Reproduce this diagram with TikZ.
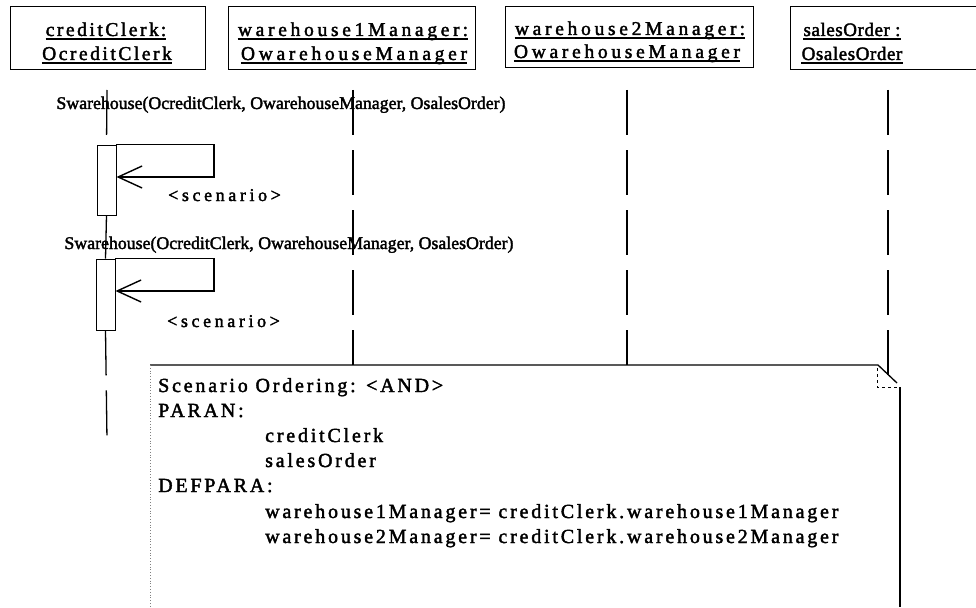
\documentclass[tikz,border=0pt]{standalone}
\usepackage{fontspec}
\setmainfont{Liberation Serif}[FakeBold=2]
\newfontfamily\hdrA{Liberation Serif}[LetterSpace=13, FakeBold=2]
\newfontfamily\hdrB{Liberation Serif}[LetterSpace=19, FakeBold=2]
\newfontfamily\hdrC{Liberation Serif}[LetterSpace=3, FakeBold=2]
\newfontfamily\notefont{Liberation Serif}[LetterSpace=14, FakeBold=2]
\newfontfamily\scnfont{Liberation Serif}[LetterSpace=20, FakeBold=2]
\usetikzlibrary{arrows.meta}
\begin{document}
\begin{tikzpicture}[x=1pt,y=-1pt,
  objbox/.style={draw, line width=1pt},
  hdr/.style={font=\hdrA\fontsize{19.5}{22}\selectfont, inner sep=0pt, anchor=base},
  hdrwide/.style={font=\hdrB\fontsize{19.5}{22}\selectfont, inner sep=0pt, anchor=base},
  hdrplain/.style={font=\hdrC\fontsize{19}{22}\selectfont, inner sep=0pt, anchor=base},
  uline/.style={line width=1.6pt},
  msg/.style={font=\fontsize{17.8}{20}\selectfont, inner sep=0pt, anchor=base},
  scn/.style={font=\scnfont\fontsize{18}{20}\selectfont, inner sep=0pt, anchor=base west},
  notetxt/.style={font=\notefont\fontsize{20}{25}\selectfont, inner sep=0pt, anchor=base west},
  life/.style={line width=1.3pt, dash pattern=on 45pt off 15pt},
  act/.style={draw, line width=0.9pt, minimum width=19pt, inner sep=0pt, fill=white},
  selfmsg/.style={line width=1.4pt, -{Straight Barb[length=24pt, width=22pt, line width=1.4pt]}},
]
\useasboundingbox (0,0) rectangle (976,607);

% ---------- object boxes ----------
\node[objbox, minimum width=195pt, minimum height=63pt, inner sep=0pt] (o1) at (107.5,38.5) {};
\node[objbox, minimum width=247pt, minimum height=63pt, inner sep=0pt] (o2) at (351.5,38.5) {};
\node[objbox, minimum width=248pt, minimum height=61pt, inner sep=0pt] (o3) at (629,37.5) {};
\coordinate (o4tr) at (976,7);
\coordinate (o4tl) at (790,7);
\coordinate (o4bl) at (790,70);
\coordinate (o4br) at (976,70);
\draw[line width=1pt] (o4tr) -- (o4tl) -- (o4bl) -- (o4br);

\node[hdr] (t1a) at (106,36) {creditClerk\kern2pt:};
\node[hdr] (t1b) at (107,60) {OcreditClerk};
\node[hdrwide] (t2a) at (353,36) {warehouse1Manager\kern3pt:};
\node[hdrwide] (t2b) at (354,60) {OwarehouseManager};
\node[hdrwide] (t3a) at (630,35) {warehouse2Manager\kern3pt:};
\node[hdrwide] (t3b) at (627,58) {OwarehouseManager};
\node[hdrplain] (t4a) at (852,36) {salesOrder :};
\node[hdrplain] (t4b) at (852,60) {OsalesOrder};
\foreach \t in {t1a,t1b,t2a,t2b,t3a,t3b,t4a,t4b}{
  \draw[uline] ([yshift=-3pt]\t.base west) -- ([yshift=-3pt]\t.base east);
}

% ---------- lifelines ----------
\coordinate (l1top) at (107,90);
\coordinate (l1end) at (107,440);
\coordinate (l2top) at (353,90);
\coordinate (l2end) at (353,365);
\coordinate (l3top) at (627,90);
\coordinate (l3end) at (627,365);
\coordinate (l4top) at (888,90);
\coordinate (l4end) at (888,375);

\node[act, minimum height=70pt] (a1) at (106.5,180) {};
\node[act, minimum height=71pt] (a2) at (105.5,294.5) {};

\draw[life] (l1top) -- (a1.north);
\draw[life] (a1.south) -- (a2.north);
\draw[life] (a2.south) -- (l1end);
\draw[life] (l2top) -- (l2end);
\draw[life] (l3top) -- (l3end);
\draw[life] (l4top) -- (l4end);
\node[act, minimum height=70pt] at (a1) {};
\node[act, minimum height=71pt] at (a2) {};

% ---------- messages ----------
\node[msg] (m1) at (281,109) {Swarehouse(OcreditClerk, OwarehouseManager, OsalesOrder)};
\node[msg] (m2) at (289,249) {Swarehouse(OcreditClerk, OwarehouseManager, OsalesOrder)};

\coordinate (r1) at (214,177);
\draw[selfmsg] (a1.north east) -| (r1) -- (a1.east |- r1);
\coordinate (r2) at (214,291);
\draw[selfmsg] (a2.north east) -| (r2) -- (a2.east |- r2);

\node[scn] (s1) at (168,201) {<scenario>};
\node[scn] (s2) at (167,327) {<scenario>};

% ---------- note ----------
\coordinate (ntl) at (150,365);
\coordinate (nfold) at (878,365);
\coordinate (nfold2) at (897,383);
\coordinate (nfi) at (877,368);
\coordinate (nfc) at (877,387);
\coordinate (nrt) at (900,387);
\coordinate (nrb) at (900,607);
\coordinate (nlb) at (150,607);
\draw[line width=1.3pt] (ntl) -- (nfold) -- (nfold2);
\draw[line width=1.3pt] (nrt) -- (nrb);
\draw[line width=0.6pt, dashed] (nfi) -- (nfc) -- (nrt);
\draw[line width=0.8pt, dotted, gray] (ntl) -- (nlb);

\node[notetxt] (n1) at (158,392) {Scenario Ordering: <AND>};
\node[notetxt] (n2) at (158,417) {PARAN:};
\node[notetxt] (n3) at (265,442) {creditClerk};
\node[notetxt] (n4) at (265,467) {salesOrder};
\node[notetxt] (n5) at (158,492) {DEFPARA:};
\node[notetxt] (n6) at (265,518) {warehouse1Manager= creditClerk.warehouse1Manager};
\node[notetxt] (n7) at (265,543) {warehouse2Manager= creditClerk.warehouse2Manager};
\end{tikzpicture}
\end{document}
